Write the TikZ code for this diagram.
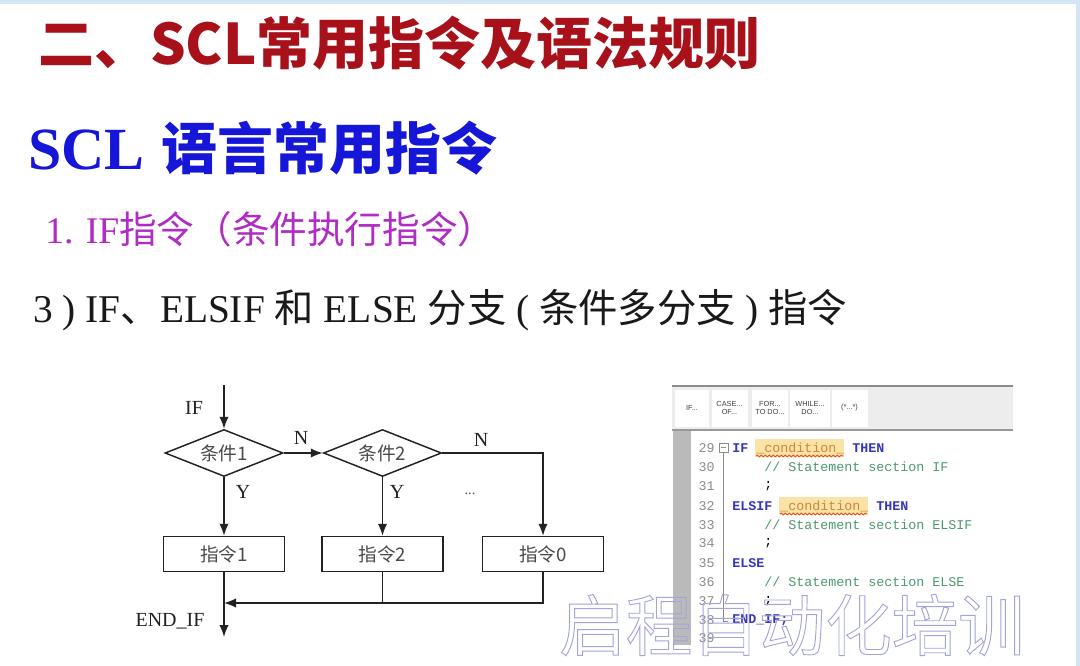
\documentclass[tikz,border=0pt]{standalone}
\usepackage{fontspec}
\usepackage{graphicx}
\setmainfont{Liberation Serif}
\newfontfamily\cjk{Noto Sans CJK SC}
\newfontfamily\mono{Liberation Mono}
\newfontfamily\sansf{Liberation Sans}
\usetikzlibrary{shapes.geometric,arrows.meta,decorations.pathmorphing}
\definecolor{titlered}{HTML}{A8101A}
\definecolor{titleblue}{HTML}{1616D8}
\definecolor{titlepurple}{HTML}{B02CC4}
\definecolor{flowline}{HTML}{222222}
\definecolor{flowtext}{HTML}{4A4A4A}
\definecolor{kwblue}{HTML}{3535C0}
\definecolor{cmtgreen}{HTML}{4C9A6E}
\definecolor{lnogray}{HTML}{8C8C8C}
\definecolor{hlfill}{HTML}{FBE2A6}
\definecolor{hltext}{HTML}{C88A3A}
\definecolor{wavyred}{HTML}{E0541E}
\definecolor{wmark}{HTML}{A4A4DC}
\definecolor{bandblue}{HTML}{D4E5F6}
\tikzset{
  arr/.style={draw=flowline, line width=1.1pt, -{Latex[length=9pt,width=7pt]}},
  fline/.style={draw=flowline, line width=1.1pt},
  decision/.style={diamond, draw=flowline, line width=1.1pt, inner sep=0pt, minimum width=88.5pt, minimum height=35.25pt},
  stepbox/.style={rectangle, draw=flowline, line width=1.1pt, minimum width=90.75pt, minimum height=26.25pt, inner sep=0pt, font=\cjk\fontsize{14}{14}\selectfont, text=flowtext},
  flab/.style={inner sep=0pt, font=\fontsize{15}{15}\selectfont, text=flowline},
  cjklab/.style={inner sep=0pt, font=\cjk\fontsize{14}{14}\selectfont, text=flowtext},
  code/.style={anchor=west, inner sep=0pt, font=\mono\fontsize{10}{10}\selectfont},
  kw/.style={code, text=kwblue, font=\mono\bfseries\fontsize{10}{10}\selectfont},
  cmt/.style={code, text=cmtgreen},
  lno/.style={anchor=east, inner sep=0pt, font=\mono\fontsize{10}{10}\selectfont, text=lnogray},
  btn/.style={rectangle, fill=white, draw=white, inner sep=0pt, align=center, font=\sansf\fontsize{5.5}{6.5}\selectfont, text=black!75},
}
\begin{document}
\begin{tikzpicture}[x=0.75pt,y=-0.75pt]
\useasboundingbox (0,0) rectangle (1080,666);
\fill[white] (0,0) rectangle (1080,666);
\fill[bandblue] (0,0) rectangle (1080,4);
\fill[bandblue] (1076,0) rectangle (1080,666);

% titles
\node[anchor=west, inner sep=0pt, text=titlered] (t1) at (38,43)
  {\resizebox{541.5pt}{!}{\cjk\bfseries\fontsize{40}{40}\selectfont 二、SCL常用指令及语法规则}};
\node[anchor=west, inner sep=0pt, text=titleblue] (t2) at (28,148)
  {\resizebox{351.75pt}{!}{{\bfseries\fontsize{46}{46}\selectfont SCL}\hspace{13pt}{\cjk\bfseries\fontsize{43}{43}\selectfont 语言常用指令}}};
\node[anchor=west, inner sep=0pt, text=titlepurple] (t3) at (45,229)
  {\resizebox{337.5pt}{!}{\fontsize{28}{28}\selectfont 1. IF{\cjk 指令（条件执行指令）}}};
\node[anchor=west, inner sep=0pt, text=black!90] (t4) at (33,310)
  {\resizebox{610.5pt}{!}{\fontsize{27}{27}\selectfont 3 ) IF{\cjk 、}ELSIF {\cjk 和} ELSE {\cjk 分支} ( {\cjk 条件多分支} ) {\cjk 指令}}};

% flowchart
\node[decision] (c1) at (224,453) {};
\node[cjklab] (c1t) at (224,453) {条件1};
\node[decision] (c2) at (382.5,453) {};
\node[cjklab] (c2t) at (382.5,453) {条件2};
\node[stepbox] (b1) at (224,554) {指令1};
\node[stepbox] (b2) at (382.5,554) {指令2};
\node[stepbox] (b3) at (543,554) {指令0};
\coordinate (ifin) at (224,385);
\coordinate (m) at (224,603);
\coordinate (endif) at (224,637);
\draw[arr] (ifin) -- (c1.north);
\draw[arr] (c1.east) -- (c2.west);
\draw[arr] (c2.east) -| (b3.north);
\draw[arr] (c1.south) -- (b1.north);
\draw[arr] (c2.south) -- (b2.north);
\draw[arr] (b3.south) |- (m);
\draw[fline] (b2.south) -- (b2.south |- m);
\draw[arr] (b1.south) -- (endif);
\node[flab] (lif) at (194,408) {IF};
\node[flab] (ln1) at (301,438) {N};
\node[flab] (ln2) at (481,440) {N};
\node[flab] (ly1) at (243,492) {Y};
\node[flab] (ly2) at (397,492) {Y};
\node[flab, text=flowtext, font=\fontsize{11}{11}\selectfont] (ldots) at (470,494) {...};
\node[flab] (lend) at (170,621) {END\_IF};

% code panel
\fill[black!7] (672,386) rectangle (1013,430);
\draw[black!45, line width=1.2pt] (672,386) -- (1013,386);
\draw[black!40, line width=1pt] (672,430) -- (1013,430);
\node[btn, minimum width=25pt, minimum height=27pt] (bif) at (692,408) {IF...};
\node[btn, minimum width=26pt, minimum height=27pt] (bcase) at (729.5,408) {CASE...\\OF...};
\node[btn, minimum width=26pt, minimum height=27pt] (bfor) at (770,408) {FOR...\\TO DO...};
\node[btn, minimum width=29pt, minimum height=27pt] (bwhile) at (810,408) {WHILE...\\DO...};
\node[btn, minimum width=26pt, minimum height=27pt] (bcmt) at (849.5,408) {(*...*)};
\fill[black!27] (673,431) rectangle (691,645);

\node[lno] (n29) at (715,448) {29};
\node[lno] (n30) at (715,467) {30};
\node[lno] (n31) at (715,486) {31};
\node[lno] (n32) at (715,506) {32};
\node[lno] (n33) at (715,525) {33};
\node[lno] (n34) at (715,543) {34};
\node[lno] (n35) at (715,563) {35};
\node[lno] (n36) at (715,582) {36};
\node[lno] (n37) at (715,601) {37};
\node[lno] (n38) at (715,620) {38};
\node[lno] (n39) at (715,638) {39};
\draw[lnogray, line width=0.6pt] (719,443) rectangle (728,452);
\draw[lnogray, line width=0.6pt] (721,447.5) -- (726,447.5);
\draw[lnogray, line width=0.6pt] (723.5,452) -- (723.5,621) -- (728,621);

\fill[hlfill] (755,439) rectangle (844,457);
\draw[wavyred, line width=0.6pt, decorate, decoration={snake, amplitude=0.7pt, segment length=3pt}] (756,456) -- (843,456);
\fill[hlfill] (779,497) rectangle (868,515);
\draw[wavyred, line width=0.6pt, decorate, decoration={snake, amplitude=0.7pt, segment length=3pt}] (780,514) -- (867,514);

\node[kw] (k29a) at (732,448) {IF};
\node[code, text=hltext] (k29b) at (756,448) {\_condition\_};
\node[kw] (k29c) at (852,448) {THEN};
\node[cmt] (k30) at (764,467) {// Statement section IF};
\node[code] (k31) at (764,486) {;};
\node[kw] (k32a) at (732,506) {ELSIF};
\node[code, text=hltext] (k32b) at (780,506) {\_condition\_};
\node[kw] (k32c) at (876,506) {THEN};
\node[cmt] (k33) at (764,525) {// Statement section ELSIF};
\node[code] (k34) at (764,543) {;};
\node[kw] (k35) at (732,563) {ELSE};
\node[cmt] (k36) at (764,582) {// Statement section ELSE};
\node[code] (k37) at (764,601) {;};
\node[kw] (k38) at (732,620) {END\_IF;};

% watermark (outlined text)
\node[inner sep=0pt, text=wmark] (wm) at (792,625)
  {\special{pdf:literal direct 1 Tr 0.7 w}\resizebox{349pt}{!}{\cjk\fontsize{50}{50}\selectfont 启程自动化培训}\special{pdf:literal direct 0 Tr}};
\end{tikzpicture}
\end{document}
